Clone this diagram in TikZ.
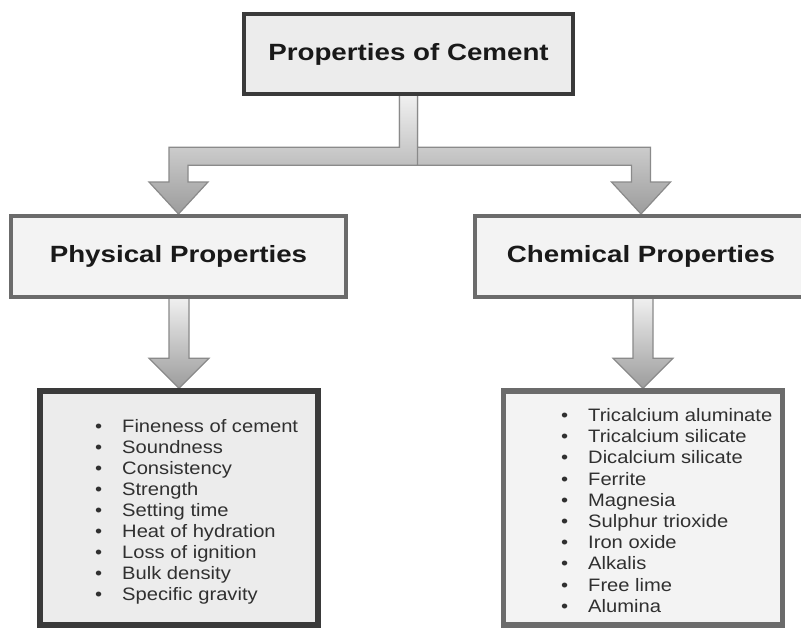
\documentclass[tikz,border=0pt]{standalone}
\usepackage{fontspec}
\setmainfont{Liberation Sans}
\newfontfamily\headfont[FakeStretch=1.18]{Liberation Sans}
\newfontfamily\listfont[FakeStretch=1.12]{Liberation Sans}
\usetikzlibrary{calc,backgrounds,shadings}
\definecolor{darkedge}{HTML}{3A3A3A}
\definecolor{grayedge}{HTML}{6B6B6B}
\definecolor{fillA}{HTML}{ECECEC}
\definecolor{fillB}{HTML}{F3F3F3}
\definecolor{arrowedge}{HTML}{8A8A8A}
\definecolor{arrowtop}{HTML}{F2F2F2}
\definecolor{arrowbot}{HTML}{9C9C9C}
\definecolor{listtext}{HTML}{303030}
\newcommand\mybullet{\llap{\textbullet\hspace{20pt}}}
\begin{document}
\begin{tikzpicture}[x=1pt,y=-1pt,
  box/.style={rectangle, inner sep=0pt, line width=4.5pt},
  headtext/.style={font=\headfont\bfseries\fontsize{23.5}{28}\selectfont, text=black!90},
  item/.style={anchor=base west, inner sep=0pt, font=\listfont\fontsize{18}{21}\selectfont, text=listtext},
  fatarrow/.style={draw=arrowedge, line width=1.2pt, top color=arrowtop, bottom color=arrowbot, line join=miter}
]
\useasboundingbox (0,0) rectangle (801,627);

% boxes
\node[box, draw=darkedge, fill=fillA, minimum width=329pt, minimum height=80pt, headtext] (top) at (408.5,54) {Properties of Cement};
\node[box, draw=grayedge, fill=fillB, line width=4pt, minimum width=335pt, minimum height=81pt, headtext] (phys) at (178.5,256.5) {Physical Properties};
\node[box, draw=grayedge, fill=fillB, line width=4pt, minimum width=332pt, minimum height=81pt, headtext] (chem) at (641,256.5) {Chemical Properties};
\node[box, draw=darkedge, fill=fillA, line width=5.5pt, minimum width=278pt, minimum height=234pt] (plist) at (179,508) {};
\node[box, draw=grayedge, fill=fillB, line width=5.5pt, minimum width=279pt, minimum height=234pt] (clist) at (643,508) {};

% list items
\foreach \t [count=\i] in {Fineness of cement, Soundness, Consistency, Strength, Setting time, Heat of hydration, Loss of ignition, Bulk density, Specific gravity}
  \node[item] (p\i) at (122,{432+21.1*(\i-1)}) {\mybullet\t};
\foreach \t [count=\i] in {Tricalcium aluminate, Tricalcium silicate, Dicalcium silicate, Ferrite, Magnesia, Sulphur trioxide, Iron oxide, Alkalis, Free lime, Alumina}
  \node[item] (c\i) at (588,{421.5+21.2*(\i-1)}) {\mybullet\t};

% arrows
\begin{pgfonlayer}{background}
\fill[white] (0,0) rectangle (801,627);
% right branch
\path[fatarrow] let \p1=(top.south), \p2=(chem.north) in
  (\x1-9pt,\y1+3pt) -- (\x1-9pt,\y1-69pt) -- (\x2-9.5pt,\y1-69pt) -- (\x2-9.5pt,\y2+32pt)
  -- (\x2-29.5pt,\y2+32pt) -- (\x2,\y2) -- (\x2+29.5pt,\y2+32pt) -- (\x2+9.5pt,\y2+32pt)
  -- (\x2+9.5pt,\y1-51pt) -- (\x1+9pt,\y1-51pt) -- (\x1+9pt,\y1+3pt) -- cycle;
% left branch
\path[fatarrow] let \p1=(top.south), \p2=(phys.north) in
  (\x1+9pt,\y1+3pt) -- (\x1+9pt,\y1-69pt) -- (\x2+9.5pt,\y1-69pt) -- (\x2+9.5pt,\y2+32pt)
  -- (\x2+29.5pt,\y2+32pt) -- (\x2,\y2) -- (\x2-29.5pt,\y2+32pt) -- (\x2-9.5pt,\y2+32pt)
  -- (\x2-9.5pt,\y1-51pt) -- (\x1-9pt,\y1-51pt) -- (\x1-9pt,\y1+3pt) -- cycle;
% lower arrows
\path[fatarrow] let \p1=(phys.south), \p2=(plist.north) in
  (\x2-10pt,\y1+3pt) -- (\x2-10pt,\y2+30pt) -- (\x2-30pt,\y2+30pt) -- (\x2,\y2)
  -- (\x2+30pt,\y2+30pt) -- (\x2+10pt,\y2+30pt) -- (\x2+10pt,\y1+3pt) -- cycle;
\path[fatarrow] let \p1=(chem.south), \p2=(clist.north) in
  (\x2-10pt,\y1+3pt) -- (\x2-10pt,\y2+30pt) -- (\x2-30pt,\y2+30pt) -- (\x2,\y2)
  -- (\x2+30pt,\y2+30pt) -- (\x2+10pt,\y2+30pt) -- (\x2+10pt,\y1+3pt) -- cycle;
\end{pgfonlayer}
\end{tikzpicture}
\end{document}
